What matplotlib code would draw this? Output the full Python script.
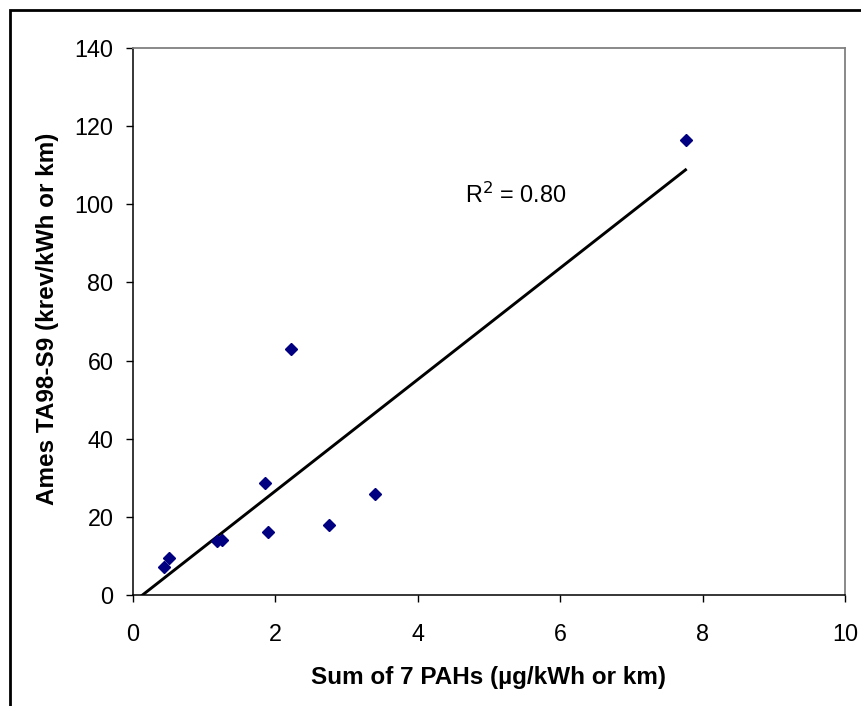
import numpy as np
import matplotlib
matplotlib.use("Agg")
from matplotlib import pyplot as plt
from matplotlib.patches import Rectangle

plt.rcParams['font.family'] = ['Liberation Sans', 'DejaVu Sans']

# 데이터
pah_sum = [0.43, 0.51, 1.18, 1.25, 1.85, 1.89, 2.22, 2.75, 3.40, 7.76]
ames = [7.1, 9.4, 13.8, 14.2, 28.7, 16.1, 63.0, 17.9, 25.8, 116.5]
x_ticks = [0, 2, 4, 6, 8, 10]
y_ticks = [0, 20, 40, 60, 80, 100, 120, 140]

x = np.array(pah_sum)
y = np.array(ames)
slope, intercept = np.polyfit(x, y, 1)
r2 = np.corrcoef(x, y)[0, 1] ** 2

fig = plt.figure(figsize=(8.62, 7.06), dpi=100)
ax = fig.add_axes([133 / 862, 1 - 595 / 706, 712 / 862, 547 / 706])

# 추세선 (0 부터 최대값까지, y=0 에서 잘림)
line_x = np.array([0, x.max()])
ax.plot(line_x, slope * line_x + intercept, color='black', linewidth=2.1, zorder=2)
ax.plot(x, y, linestyle='none', marker='D', markersize=6.3, color='#000080',
        markeredgecolor='#000080', zorder=3)

ax.set_xlim(0, 10)
ax.set_ylim(0, 140)
ax.set_xticks(x_ticks)
ax.set_yticks(y_ticks)
ax.tick_params(axis='both', direction='out', length=5, width=1, labelsize=16.8, color='black')
ax.tick_params(axis='x', pad=15)
ax.tick_params(axis='y', pad=9)

for side in ['left', 'bottom']:
    ax.spines[side].set_color('black')
    ax.spines[side].set_linewidth(1.1)
for side in ['top', 'right']:
    ax.spines[side].set_color('#808080')
    ax.spines[side].set_linewidth(1.3)

ax.set_xlabel('Sum of 7 PAHs (µg/kWh or km)', fontsize=17.5, fontweight='bold', va='center')
ax.set_ylabel('Ames TA98-S9 (krev/kWh or km)', fontsize=17.5, fontweight='bold', va='center')
ax.xaxis.set_label_coords(0.5, -0.150)
ax.yaxis.set_label_coords(-0.120, 0.5046)

ax.text(4.66, 102.4, 'R$^2$ = %.2f' % r2, fontsize=16.8, va='center', ha='left',
        family=['Liberation Sans', 'DejaVu Sans'])

# 바깥 테두리
fig.patches.append(Rectangle((10 / 862, -0.1), 1.2, 1 - 10 / 706 + 0.1, transform=fig.transFigure,
                             fill=False, edgecolor='black', linewidth=2, figure=fig))

fig.savefig('out.png', dpi=100)
